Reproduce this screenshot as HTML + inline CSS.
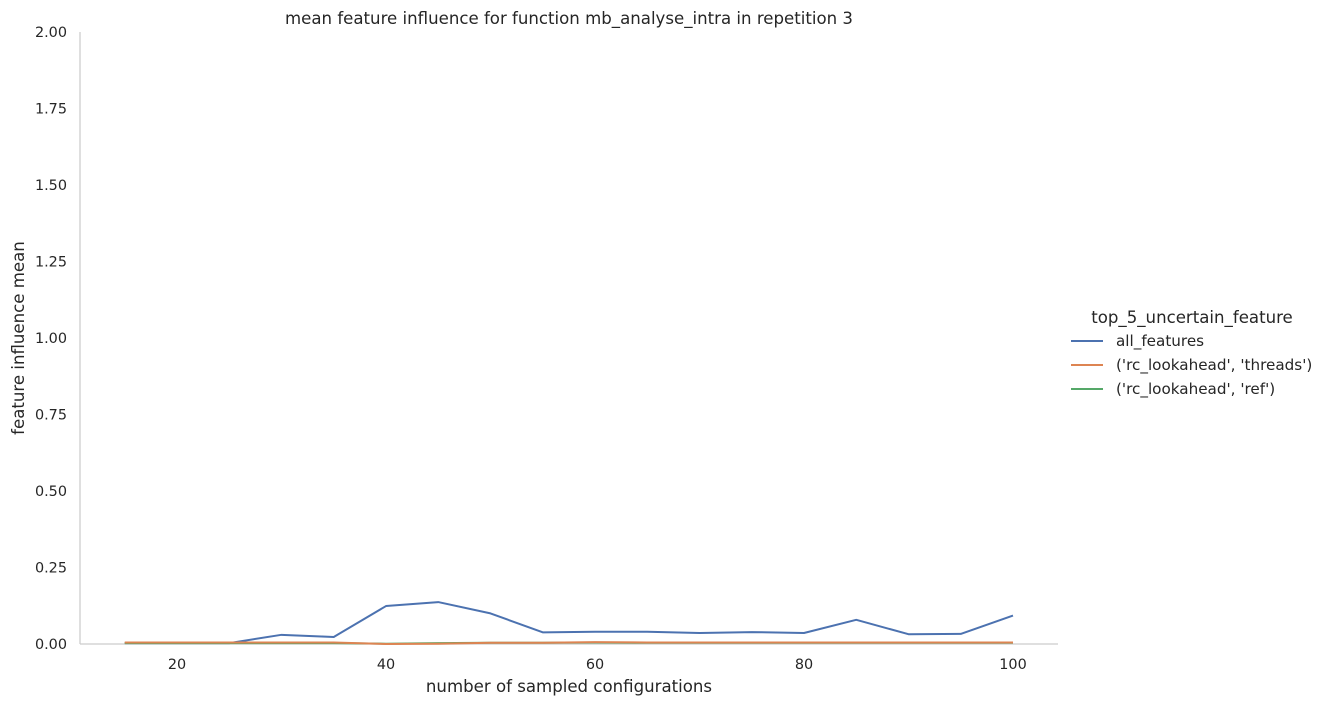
<!DOCTYPE html>
<html><head><meta charset="utf-8"><style>
body{margin:0;background:#fff;font-family:"DejaVu Sans","Liberation Sans",sans-serif;}
svg text{font-family:"DejaVu Sans","Liberation Sans",sans-serif;fill:#262626;}
</style></head><body>
<svg id="chart" width="1326" height="706" xmlns="http://www.w3.org/2000/svg"></svg>
<script>
const xValues=[15,20,25,30,35,40,45,50,55,60,65,70,75,80,85,90,95,100];
const allFeatures=[0.003,0.003,0.003,0.03,0.023,0.124,0.137,0.10,0.038,0.04,0.04,0.036,0.039,0.036,0.079,0.032,0.033,0.093];
const threads=[0.005,0.005,0.005,0.005,0.005,0.0,0.001,0.004,0.004,0.006,0.005,0.005,0.005,0.005,0.005,0.005,0.005,0.005];
const refs=[0.003,0.003,0.003,0.003,0.003,0.001,0.003,0.004,0.004,0.005,0.004,0.004,0.004,0.004,0.004,0.004,0.004,0.004];
const xTicks=[20,40,60,80,100];
const yTicks=[0,0.25,0.5,0.75,1.0,1.25,1.5,1.75,2.0];
const seriesNames=["all_features","('rc_lookahead', 'threads')","('rc_lookahead', 'ref')"];
const colors=["#4c72b0","#dd8452","#55a868"];
const NS="http://www.w3.org/2000/svg";
const svg=document.getElementById('chart');
const X=v=>177+(v-20)*(1013-177)/80;
const Y=v=>644-v*(644-32)/2;
function el(t,a,p){const e=document.createElementNS(NS,t);for(const k in a)e.setAttribute(k,a[k]);(p||svg).appendChild(e);return e;}
let ax=el('line',{x1:80,y1:32,x2:80,y2:644,stroke:'#cccccc','stroke-width':1.25});


ax=el('line',{x1:80,y1:644,x2:1058,y2:644,stroke:'#cccccc','stroke-width':1.25});


yTicks.forEach(v=>{const t=el('text',{x:67,y:Y(v)+5,'text-anchor':'end','font-size':14.4});t.textContent=v.toFixed(2);

});
xTicks.forEach(v=>{const t=el('text',{x:X(v),y:669,'text-anchor':'middle','font-size':14.4});t.textContent=v;

});
let t=el('text',{x:569,y:24,'text-anchor':'middle','font-size':16.6});t.textContent='mean feature influence for function mb_analyse_intra in repetition 3';


t=el('text',{x:569,y:692,'text-anchor':'middle','font-size':16.6});t.textContent='number of sampled configurations';


t=el('text',{x:24,y:338,'text-anchor':'middle','font-size':16.6,transform:'rotate(-90 24 338)'});t.textContent='feature influence mean';


[[allFeatures,0],[refs,2],[threads,1]].forEach(([s,i])=>{
 const p=el('polyline',{points:s.map((v,j)=>X(xValues[j])+','+Y(v)).join(' '),fill:'none',stroke:colors[i],'stroke-width':2,'stroke-linejoin':'round'});
 
 
});
t=el('text',{x:1192,y:323,'text-anchor':'middle','font-size':16.6});t.textContent='top_5_uncertain_feature';


seriesNames.forEach((n,i)=>{const y=341+i*24;
 const l=el('line',{x1:1071,y1:y,x2:1103,y2:y,stroke:colors[i],'stroke-width':2});
 
 
 const tx=el('text',{x:1116,y:y+5,'font-size':15.2});tx.textContent=n;
 
 });
</script>
</body></html>
